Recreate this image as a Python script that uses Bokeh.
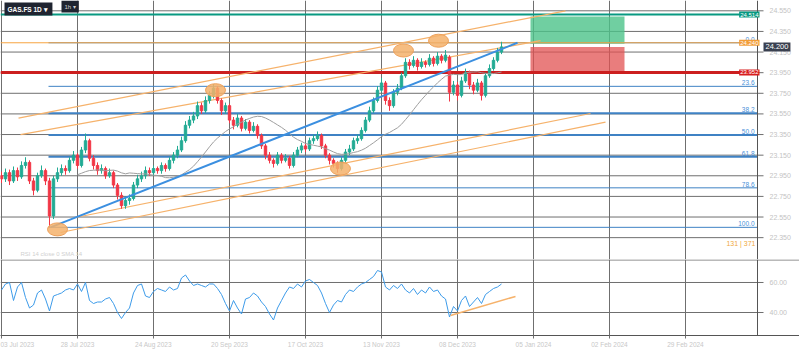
import pandas as pd
from bokeh.plotting import figure
from bokeh.layouts import column
from bokeh.models import (Range1d, FixedTicker, Grid, Label, ColumnDataSource, Span)
from bokeh.embed import file_html
from bokeh.resources import INLINE
from bokeh.core.properties import value

FONT = "Liberation Sans"
GRID = "#6f6f6f"

# ---------------- data ----------------
opens = [22.95, 22.92, 22.98, 22.90, 23.00, 22.94, 23.05, 23.08, 22.90, 22.81,
         22.95, 23.00, 22.90, 22.56, 22.92, 22.98, 23.02, 23.00, 23.10, 23.15,
         23.05, 23.20, 23.29, 23.12, 23.05, 23.00, 23.02, 22.95, 22.98, 22.86,
         22.76, 22.66, 22.71, 22.73, 22.86, 22.92, 22.95, 23.00, 22.98, 23.02,
         23.00, 23.05, 23.02, 23.10, 23.15, 23.20, 23.29, 23.44, 23.49, 23.53,
         23.63, 23.58, 23.68, 23.73, 23.80, 23.68, 23.58, 23.63, 23.49, 23.44,
         23.51, 23.41, 23.47, 23.39, 23.43, 23.34, 23.24, 23.15, 23.10, 23.07,
         23.15, 23.10, 23.12, 23.05, 23.15, 23.20, 23.24, 23.21, 23.29, 23.31,
         23.34, 23.24, 23.15, 23.10, 23.07, 23.02, 23.10, 23.18, 23.21, 23.29,
         23.31, 23.39, 23.49, 23.58, 23.68, 23.78, 23.85, 23.68, 23.63, 23.76,
         23.80, 23.92, 24.05, 24.02, 24.07, 24.01, 24.05, 24.03, 24.09, 24.04,
         24.11, 24.07, 24.10, 23.76, 23.83, 23.73, 23.87, 23.95, 23.83, 23.78,
         23.85, 23.73, 23.92, 23.99, 24.07, 24.15]
closes = [22.92, 22.98, 22.90, 23.00, 22.94, 23.05, 23.08, 22.90, 22.81, 22.95,
          23.00, 22.90, 22.56, 22.92, 22.98, 23.02, 23.00, 23.10, 23.15, 23.05,
          23.20, 23.29, 23.12, 23.05, 23.00, 23.02, 22.95, 22.98, 22.86, 22.76,
          22.66, 22.71, 22.73, 22.86, 22.92, 22.95, 23.00, 22.98, 23.02, 23.00,
          23.05, 23.02, 23.10, 23.15, 23.20, 23.29, 23.44, 23.49, 23.53, 23.63,
          23.58, 23.68, 23.73, 23.80, 23.68, 23.58, 23.63, 23.49, 23.44, 23.51,
          23.41, 23.47, 23.39, 23.43, 23.34, 23.24, 23.15, 23.10, 23.07, 23.15,
          23.10, 23.12, 23.05, 23.15, 23.20, 23.24, 23.21, 23.29, 23.31, 23.34,
          23.24, 23.15, 23.10, 23.07, 23.02, 23.10, 23.18, 23.21, 23.29, 23.31,
          23.39, 23.49, 23.58, 23.68, 23.78, 23.85, 23.68, 23.63, 23.76, 23.80,
          23.92, 24.05, 24.02, 24.07, 24.01, 24.05, 24.03, 24.09, 24.04, 24.11,
          24.07, 24.12, 23.76, 23.83, 23.73, 23.87, 23.95, 23.83, 23.78, 23.85,
          23.73, 23.92, 23.99, 24.07, 24.15, 24.20]
highs = [22.99, 23.02, 23.01, 23.04, 23.03, 23.09, 23.13, 23.10, 22.93, 22.98,
         23.05, 23.02, 22.93, 22.95, 23.03, 23.06, 23.05, 23.13, 23.19, 23.17,
         23.23, 23.36, 23.31, 23.15, 23.08, 23.06, 23.04, 23.02, 23.00, 22.88,
         22.79, 22.75, 22.77, 22.89, 22.96, 22.99, 23.04, 23.03, 23.05, 23.04,
         23.08, 23.07, 23.13, 23.18, 23.24, 23.33, 23.48, 23.53, 23.57, 23.67,
         23.66, 23.72, 23.77, 23.84, 23.82, 23.70, 23.66, 23.65, 23.52, 23.55,
         23.53, 23.50, 23.49, 23.47, 23.45, 23.36, 23.26, 23.18, 23.12, 23.18,
         23.17, 23.16, 23.14, 23.18, 23.23, 23.27, 23.26, 23.32, 23.35, 23.38,
         23.36, 23.26, 23.17, 23.12, 23.09, 23.13, 23.21, 23.25, 23.32, 23.35,
         23.42, 23.52, 23.62, 23.71, 23.82, 23.90, 23.87, 23.71, 23.79, 23.84,
         23.95, 24.09, 24.08, 24.11, 24.09, 24.09, 24.07, 24.13, 24.11, 24.15,
         24.13, 24.17, 24.12, 23.87, 23.86, 23.91, 23.99, 23.97, 23.86, 23.89,
         23.87, 23.95, 24.03, 24.10, 24.19, 24.25]
lows = [22.88, 22.89, 22.86, 22.88, 22.90, 22.92, 23.02, 22.87, 22.76, 22.79,
        22.93, 22.86, 22.45, 22.53, 22.89, 22.95, 22.96, 22.98, 23.07, 23.02,
        23.03, 23.17, 23.09, 23.01, 22.96, 22.97, 22.92, 22.93, 22.83, 22.72,
        22.63, 22.63, 22.67, 22.71, 22.83, 22.89, 22.92, 22.95, 22.95, 22.97,
        22.97, 22.99, 23.00, 23.07, 23.12, 23.18, 23.27, 23.41, 23.46, 23.50,
        23.55, 23.56, 23.65, 23.70, 23.65, 23.54, 23.55, 23.46, 23.40, 23.42,
        23.38, 23.39, 23.36, 23.37, 23.31, 23.21, 23.11, 23.07, 23.03, 23.05,
        23.07, 23.08, 23.02, 23.03, 23.13, 23.17, 23.18, 23.19, 23.26, 23.29,
        23.21, 23.12, 23.06, 23.03, 22.98, 23.00, 23.08, 23.15, 23.19, 23.26,
        23.29, 23.37, 23.47, 23.56, 23.66, 23.76, 23.64, 23.58, 23.61, 23.73,
        23.78, 23.90, 23.98, 24.00, 23.97, 23.99, 24.00, 24.01, 24.01, 24.02,
        24.04, 24.05, 23.67, 23.73, 23.68, 23.71, 23.85, 23.79, 23.74, 23.76,
        23.68, 23.71, 23.90, 23.97, 24.05, 24.13]
rsi = [55, 59, 60, 48, 57, 60, 50, 43, 45, 53,
       55, 49, 41, 51, 52, 53, 55, 56, 55, 59,
       54, 60, 48, 46, 47, 47, 49, 50, 46, 40,
       36, 40, 43, 53, 58, 59, 51, 50, 54, 56,
       55, 54, 57, 55, 56, 63, 65, 61, 58, 59,
       58, 57, 59, 59, 56, 52, 46, 41, 48, 43,
       39, 49, 50, 53, 51, 47, 44, 39, 35, 43,
       48, 53, 57, 56, 59, 57, 61, 62, 60, 58,
       53, 46, 40, 45, 48, 47, 52, 55, 54, 57,
       59, 60, 62, 64, 68, 67, 57, 55, 58, 56,
       59, 55, 53, 56, 52, 55, 53, 57, 54, 55,
       51, 49, 37, 44, 41, 48, 51, 44, 47, 50,
       46, 52, 54, 56, 57, 59]

x_tick_idx = [0, 19, 38, 57, 76, 95, 114, 133, 152, 171]
x_tick_labels = ["03 Jul 2023", "28 Jul 2023", "24 Aug 2023", "20 Sep 2023",
                 "17 Oct 2023", "13 Nov 2023", "08 Dec 2023", "05 Jan 2024",
                 "02 Feb 2024", "29 Feb 2024"]
price_ticks = [22.35, 22.55, 22.75, 22.95, 23.15, 23.35, 23.55,
               23.75, 23.95, 24.15, 24.35, 24.55]
rsi_ticks = [40, 60]

# drawing tools
trend_x = [12.25, 129.0]
trend_y = [22.45, 24.24]
channel_xs = [[4.25, 141.0], [4.75, 134.75], [18.5, 147.25], [14.75, 151.0]]
channel_ys = [[23.51, 24.55], [23.35, 24.26], [22.545, 23.554], [22.40, 23.47]]
marker_x = [14.0, 53.5, 84.75, 100.5, 109.25]
marker_y = [22.43, 23.78, 23.02, 24.165, 24.26]

fib_high = 24.24
fib_low = 22.45
fib_start = 11.75
fib_levels = [0.0, 0.236, 0.382, 0.5, 0.618, 0.786, 1.0]
fib_labels = ["0.0", "23.6", "38.2", "50.0", "61.8", "78.6", "100.0"]
fib_widths = [1, 1, 2, 2, 2, 1, 1]

target_level = 24.514
stop_level = 23.952
current_price = 24.200
pos_left, pos_right = 132.25, 155.75
pos_entry_top, pos_entry_bottom = 24.23, 24.20

rsi_trend_x = [112.25, 128.5]
rsi_trend_y = [38.0, 50.7]

# ---------------- build ----------------
n = len(closes)
df = pd.DataFrame({"x": list(range(n)), "open": opens, "high": highs,
                   "low": lows, "close": closes})
df["top"] = df[["open", "close"]].max(axis=1)
df["bottom"] = df[["open", "close"]].min(axis=1)
df["color"] = ["#22ab94" if c >= o else "#f23645" for o, c in zip(opens, closes)]
df["sma"] = df["close"].rolling(20).mean()
df["rsi"] = rsi
src = ColumnDataSource(df)

X_START = -0.25
AXIS_X = 189.0          # right edge of the chart area (price scale line)
X_END = X_START + 799 / 4.0
TICK = 1.5              # tick length in x units (6 px)
LBL = 2.5               # label offset from axis line


def price_scale(fig, ticks, fmt):
    nt = len(ticks)
    fig.segment(x0=[X_START] * nt, x1=[AXIS_X + TICK] * nt, y0=ticks, y1=ticks,
                line_color=GRID, line_width=1)
    fig.add_layout(Span(location=AXIS_X, dimension="height",
                        line_color="#555555", line_width=1))
    fig.text(x=[AXIS_X + LBL] * nt, y=ticks, text=[fmt.format(t) for t in ticks],
             text_align="left", text_baseline="middle", x_offset=2,
             text_font_size="7px", text_color="#c3c3c3", text_font=value(FONT))


p = figure(frame_width=799, frame_height=259, x_range=Range1d(X_START, X_END),
           y_range=Range1d(22.138, 24.65), x_axis_location=None,
           y_axis_location=None, toolbar_location=None, output_backend="svg",
           title=None, min_border_left=0, min_border_right=0,
           min_border_top=0, min_border_bottom=0)
p.outline_line_color = None
p.grid.visible = False
p.add_layout(Grid(dimension=0, ticker=FixedTicker(ticks=x_tick_idx),
                  grid_line_color=GRID))
price_scale(p, price_ticks, "{:.3f}")

# fib retracement
fib_prices = [fib_high - lv * (fib_high - fib_low) for lv in fib_levels]
nf = len(fib_prices)
p.segment(x0=[fib_start] * nf, x1=[AXIS_X] * nf, y0=fib_prices, y1=fib_prices,
          line_color="#3f82c4", line_width=fib_widths)
p.text(x=[AXIS_X] * nf, y=fib_prices, text=fib_labels,
       text_align="right", text_baseline="bottom", x_offset=-3, y_offset=-1,
       text_font_size="6.5px", text_color="#4a90d9", text_font=value(FONT))

# position boxes
p.quad(left=[pos_left], right=[pos_right], bottom=[pos_entry_top],
       top=[target_level - 0.02], fill_color="#4cc38a", fill_alpha=0.8,
       line_color=None)
p.quad(left=[pos_left], right=[pos_right], bottom=[stop_level + 0.01],
       top=[pos_entry_bottom], fill_color="#e25252", fill_alpha=0.75,
       line_color=None)

# horizontal levels
levels = [fib_high, target_level, stop_level]
p.segment(x0=[X_START] * 3, x1=[AXIS_X] * 3, y0=levels, y1=levels,
          line_color=["#f7a440", "#089981", "#cc1f1f"], line_width=[1, 2, 3])

# channel lines
p.multi_line(xs=channel_xs, ys=channel_ys, line_color="#f6b26b", line_width=1.2)

# candles
p.segment(x0="x", y0="low", x1="x", y1="high", line_color="color", source=src)
p.vbar(x="x", width=0.6, top="top", bottom="bottom", fill_color="color",
       line_color="color", source=src)
p.line("x", "sma", source=src, line_color="#9e9e9e", line_width=1)

# trend line
p.line(trend_x, trend_y, line_color="#3b8fe0", line_width=2)

# markers
p.ellipse(x=marker_x, y=marker_y, width=20, height=13, width_units="screen",
          height_units="screen", fill_color="#f5b26b", fill_alpha=0.85,
          line_color="#eda05a", line_width=1)


# price tags
def tag(y, text, bg):
    p.add_layout(Label(x=AXIS_X, y=y, text=text, text_align="right",
                       text_baseline="middle", x_offset=2,
                       text_font_size="6px", text_color="white",
                       text_font=FONT, background_fill_color=bg, padding=1))


tag(target_level, f"{target_level:.3f}", "#089981")
tag(fib_high, f"{fib_high:.3f}", "#f29d38")
tag(stop_level, f"{stop_level:.3f}", "#d81e1e")
p.add_layout(Label(x=AXIS_X, y=current_price, text=f"{current_price:.3f}",
                   text_align="left", text_baseline="middle", x_offset=6,
                   text_font_size="7.5px", text_color="white", text_font=FONT,
                   background_fill_color="#3a4150", padding=2))

p.add_layout(Label(x=4, y=257, x_units="screen", y_units="screen",
                   text="GAS.FS  1D ▾", text_baseline="top",
                   text_font_size="6.5px", text_font_style="bold",
                   text_color="white", text_font=FONT,
                   background_fill_color="#1f2430", padding=3))
p.add_layout(Label(x=61, y=259, x_units="screen", y_units="screen",
                   text="1h ▾", text_baseline="top", text_font_size="6px",
                   text_color="#d0d0d0", text_font=FONT,
                   background_fill_color="#1f2430", padding=3))
p.add_layout(Label(x=755, y=16, x_units="screen", y_units="screen",
                   text="131 | 371", text_align="right", text_baseline="middle",
                   text_font_size="7px", text_color="#f0a840", text_font=FONT))
p.add_layout(Label(x=20, y=6, x_units="screen", y_units="screen",
                   text="RSI 14 close 0 SMA 14", text_baseline="middle",
                   text_font_size="6px", text_color="#d0d0d0", text_font=FONT))

# ---------------- RSI pane ----------------
p2 = figure(frame_width=799, frame_height=76, x_range=p.x_range,
            y_range=Range1d(24.67, 75.33), y_axis_location=None,
            x_axis_location="below", toolbar_location=None,
            output_backend="svg", title=None, min_border_left=0,
            min_border_right=0, min_border_top=0, min_border_bottom=16)
p2.outline_line_color = None
p2.grid.visible = False
p2.add_layout(Grid(dimension=0, ticker=FixedTicker(ticks=x_tick_idx),
                   grid_line_color=GRID))
p2.add_layout(Span(location=75.0, dimension="width", line_color=GRID,
                   line_width=1))
price_scale(p2, rsi_ticks, "{:.2f}")
p2.line("x", "rsi", source=src, line_color="#3d9be9", line_width=1)
p2.line(rsi_trend_x, rsi_trend_y, line_color="#f6b26b", line_width=1.5)

xa = p2.xaxis[0]
xa.ticker = FixedTicker(ticks=x_tick_idx)
xa.major_label_overrides = {t: l for t, l in zip(x_tick_idx, x_tick_labels)}
xa.axis_line_color = "#555555"
xa.major_tick_line_color = GRID
xa.major_tick_out = 3
xa.major_tick_in = 0
xa.minor_tick_line_color = None
xa.major_label_text_color = "#c8c8c8"
xa.major_label_text_font_size = "6.5px"
xa.major_label_text_font = FONT
xa.major_label_text_align = "left"
xa.major_label_standoff = 2

layout = column(p, p2, spacing=0)
open("out.html", "w").write(file_html(layout, INLINE))
